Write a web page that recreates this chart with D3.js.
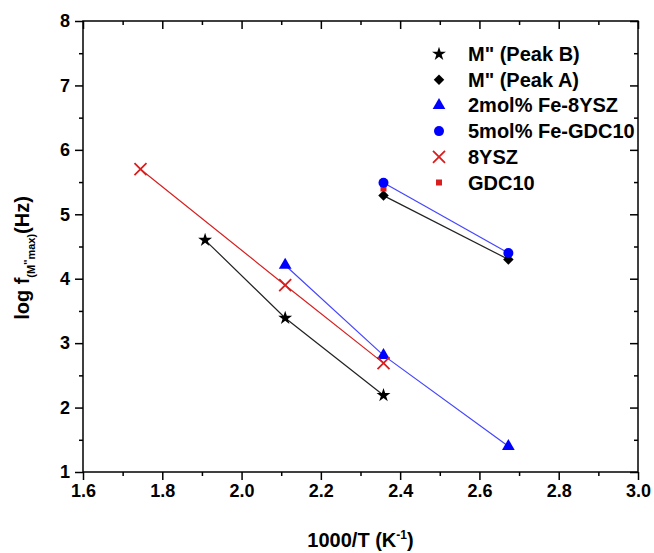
<!DOCTYPE html>
<html>
<head>
<meta charset="utf-8">
<script src="https://cdn.jsdelivr.net/npm/d3@7"></script>
<style>
  body { margin: 0; background: #fff; }
  text { font-family: "Liberation Sans", Arial, sans-serif; font-weight: bold; }
</style>
</head>
<body>
<svg width="654" height="553"></svg>
<script>
// data (x = 1000/T, y = log f)
var peakB  = [[1.908, 4.6], [2.11, 3.39], [2.358, 2.19]];
var peakA  = [[2.358, 5.29], [2.673, 4.3]];
var fe8ysz = [[2.11, 4.21], [2.358, 2.81], [2.673, 1.4]];
var feGdc  = [[2.358, 5.49], [2.673, 4.4]];
var ysz8   = [[1.745, 5.7], [2.11, 3.9], [2.358, 2.69]];
var gdc10  = [[2.358, 5.4]];

var legendNames = ["M\" (Peak B)", "M\" (Peak A)", "2mol% Fe-8YSZ", "5mol% Fe-GDC10", "8YSZ", "GDC10"];
var xMajor = [1.6, 1.8, 2.0, 2.2, 2.4, 2.6, 2.8, 3.0];
var xMinor = [1.7, 1.9, 2.1, 2.3, 2.5, 2.7, 2.9];
var yMajor = [1, 2, 3, 4, 5, 6, 7, 8];
var yMinor = [1.5, 2.5, 3.5, 4.5, 5.5, 6.5, 7.5];

var svg = d3.select("svg");
// plot box (note: "top" is reserved on window, so use pl/pr/pt/pb)
var pl = 83, pr = 638, pt = 21, pb = 472;

var x = d3.scaleLinear().domain([1.6, 3.0]).range([pl, pr]);
var y = d3.scaleLinear().domain([1, 8]).range([pb, pt]);

var blue = "#0000ff", red = "#d81e1e";

// axes: outward on bottom/left, inward mirrors on top/right
function styleAxis(g) {
  g.select(".domain").remove();
  g.selectAll("line").attr("stroke", "#000").attr("stroke-width", 1.5);
  g.selectAll("text").attr("font-size", 18).attr("fill", "#000");
}

svg.append("g").attr("transform", "translate(0," + pb + ")")
  .call(d3.axisBottom(x).tickValues(xMajor).tickSize(8).tickPadding(4).tickFormat(d3.format(".1f")))
  .call(styleAxis);
svg.append("g").attr("transform", "translate(0," + pb + ")")
  .call(d3.axisBottom(x).tickValues(xMinor).tickSize(4).tickFormat(""))
  .call(styleAxis);
svg.append("g").attr("transform", "translate(0," + pt + ")")
  .call(d3.axisBottom(x).tickValues(xMajor).tickSize(8).tickFormat(""))
  .call(styleAxis);
svg.append("g").attr("transform", "translate(0," + pt + ")")
  .call(d3.axisBottom(x).tickValues(xMinor).tickSize(4).tickFormat(""))
  .call(styleAxis);

svg.append("g").attr("transform", "translate(" + pl + ",0)")
  .call(d3.axisLeft(y).tickValues(yMajor).tickSize(8).tickPadding(5).tickFormat(d3.format("d")))
  .call(styleAxis);
svg.append("g").attr("transform", "translate(" + pl + ",0)")
  .call(d3.axisLeft(y).tickValues(yMinor).tickSize(4).tickFormat(""))
  .call(styleAxis);
svg.append("g").attr("transform", "translate(" + pr + ",0)")
  .call(d3.axisLeft(y).tickValues(yMajor).tickSize(8).tickFormat(""))
  .call(styleAxis);
svg.append("g").attr("transform", "translate(" + pr + ",0)")
  .call(d3.axisLeft(y).tickValues(yMinor).tickSize(4).tickFormat(""))
  .call(styleAxis);

// frame
svg.append("rect")
  .attr("x", pl).attr("y", pt)
  .attr("width", pr - pl).attr("height", pb - pt)
  .attr("fill", "none").attr("stroke", "#000").attr("stroke-width", 1.5);

// series
var line = d3.line().x(function(d) { return x(d[0]); }).y(function(d) { return y(d[1]); });

var series = [
  { data: peakB,  color: "#000", line: "#222", sym: "star" },
  { data: peakA,  color: "#000", line: "#222", sym: "diamond" },
  { data: fe8ysz, color: blue,   line: "#4444ff", sym: "triangle" },
  { data: feGdc,  color: blue,   line: "#4444ff", sym: "circle" },
  { data: ysz8,   color: red,    line: red, sym: "cross" },
  { data: gdc10,  color: red,    line: null, sym: "square" }
];

series.forEach(function(s) {
  if (s.line && s.data.length > 1) {
    svg.append("path").datum(s.data)
      .attr("d", line)
      .attr("fill", "none")
      .attr("stroke", s.line)
      .attr("stroke-width", 1.2);
  }
});

function drawSymbol(g, sym, color) {
  if (sym == "cross") {
    g.append("path").attr("d", "M-6,-6L6,6M-6,6L6,-6")
      .attr("stroke", color).attr("stroke-width", 1.8).attr("fill", "none");
  } else if (sym == "diamond") {
    g.append("path").attr("d", d3.symbol(d3.symbolSquare, 55)())
      .attr("transform", "rotate(45)").attr("fill", color);
  } else if (sym == "star") {
    g.append("path").attr("d", d3.symbol(d3.symbolStar, 60)()).attr("fill", color);
  } else if (sym == "triangle") {
    g.append("path").attr("d", d3.symbol(d3.symbolTriangle, 70)()).attr("fill", color);
  } else if (sym == "circle") {
    g.append("circle").attr("r", 5).attr("fill", color);
  } else if (sym == "square") {
    g.append("rect").attr("x", -3).attr("y", -3).attr("width", 6).attr("height", 6).attr("fill", color);
  }
}

// draw order so circle sits on top of square on top of diamond
[0, 1, 2, 4, 5, 3].forEach(function(i) {
  var s = series[i];
  s.data.forEach(function(d) {
    var g = svg.append("g").attr("transform", "translate(" + x(d[0]) + "," + y(d[1]) + ")");
    drawSymbol(g, s.sym, s.color);
  });
});

// legend
var legend = svg.append("g").attr("transform", "translate(439,54)");
legendNames.forEach(function(name, i) {
  var row = legend.append("g").attr("transform", "translate(0," + (i * 25.7) + ")");
  drawSymbol(row, series[i].sym, series[i].color);
  row.append("text")
    .attr("x", 29).attr("y", 7)
    .attr("font-size", 20)
    .attr("fill", "#000")
    .text(name);
});

// x title
var xt = svg.append("text")
  .attr("x", (pl + pr) / 2).attr("y", 547)
  .attr("text-anchor", "middle")
  .attr("font-size", 20);
xt.append("tspan").text("1000/T (K");
xt.append("tspan").attr("font-size", 12).attr("dy", -8).text("-1");
xt.append("tspan").attr("dy", 8).text(")");

// y title
var yt = svg.append("text")
  .attr("transform", "translate(29,258) rotate(-90)")
  .attr("text-anchor", "middle")
  .attr("font-size", 20);
yt.append("tspan").text("log f");
yt.append("tspan").attr("font-size", 11).attr("dy", 6).text("(M");
yt.append("tspan").attr("font-size", 11).attr("dy", -3).text("''");
yt.append("tspan").attr("font-size", 11).attr("dy", 3).text("max)");
yt.append("tspan").attr("dy", -6).text("(Hz)");
</script>
</body>
</html>
